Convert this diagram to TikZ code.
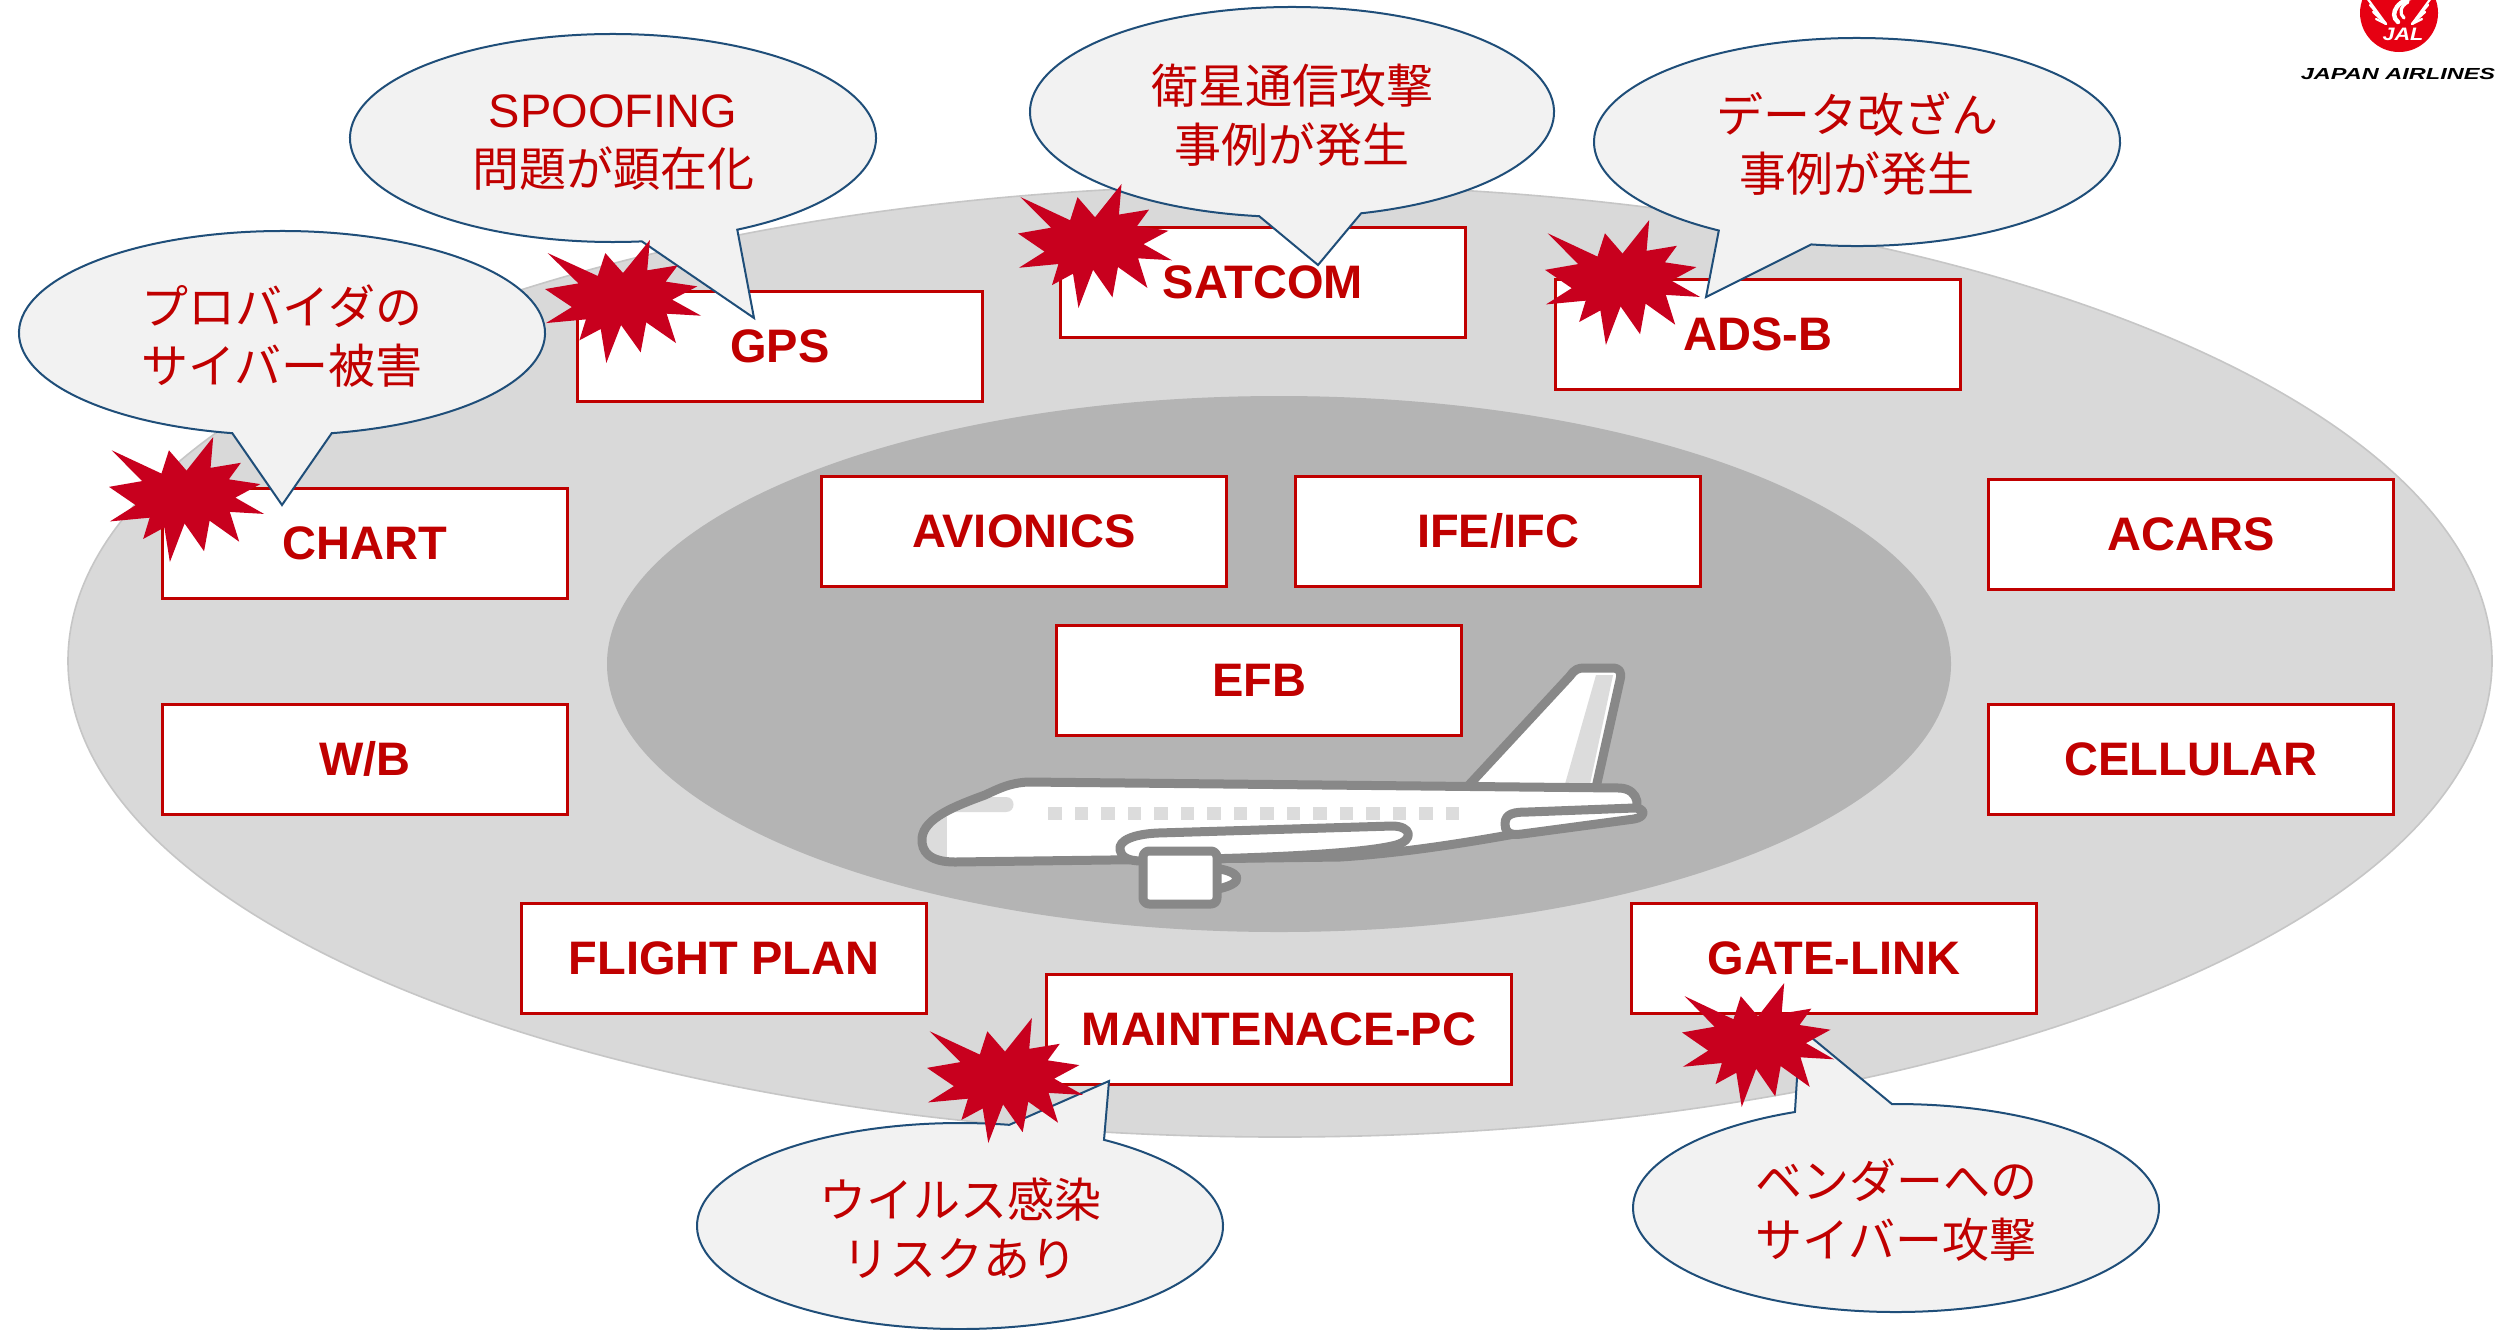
\documentclass[tikz,border=0pt]{standalone}
\usepackage{fontspec}
\usepackage{graphicx}
\setmainfont{Liberation Sans}
\newfontfamily\jp{Noto Sans CJK JP}
\definecolor{boxred}{HTML}{C00000}
\definecolor{burstred}{RGB}{200,0,30}
\definecolor{calloutfill}{HTML}{F2F2F2}
\definecolor{calloutline}{HTML}{1F4E79}
\definecolor{outerzone}{HTML}{D9D9D9}
\definecolor{outerrim}{HTML}{C6C6C6}
\definecolor{innerzone}{HTML}{B4B4B4}
\definecolor{planeline}{HTML}{888888}
\definecolor{planeshade}{HTML}{DCDCDC}
\definecolor{jalred}{HTML}{E60012}

% explosion burst in a 216 x 216 box, origin at top left
\tikzset{burst/.pic={\fill[burstred] (108,58) -- (83.52,22.95) -- (73.12,63.2) -- (3.7,22.95) -- (46.27,76.17) -- (0,86.15) -- (37.22,117.75) -- (1.35,145.87) -- (56.67,139.37) -- (47.62,176.17) -- (77.15,156.27) -- (84.85,216) -- (105.32,149.35) -- (132.47,197.37) -- (140.2,144.57) -- (181.45,180.95) -- (168.37,129.42) -- (216,132.9) -- (176.07,104.75) -- (211,81.37) -- (167.02,73.15) -- (183.8,44.57) -- (141.55,53.25) -- (145.22,0) -- cycle;}}
% \burstat{left}{top}{width}{height}
\newcommand\burstat[4]{\pic[xscale=#3/216,yscale=#4/216] at (#1,#2) {burst};}
% \bubbleat{cx}{cy}{rx}{ry}{start}{end}{tip x}{tip y}
\newcommand\bubbleat[8]{\filldraw[bubble] (#1,#2) ++(#5:#3 and #4) arc[start angle=#5, end angle=#6, x radius=#3, y radius=#4] -- (#7,#8) -- cycle;}
% airplane fuselage outline
\newcommand\bodyshape[1]{\path[#1] (922,838) .. controls (924,818) and (955,806) .. (985,795) .. controls (1000,788) and (1010,783) .. (1028,782) -- (1620,788) .. controls (1640,789) and (1642,812) .. (1628,814) .. controls (1560,824) and (1450,850) .. (1340,857) -- (955,862) .. controls (930,862) and (921,852) .. (922,838) -- cycle;}
\newcommand\finshape[1]{\path[#1] (1468,786) -- (1570,676) .. controls (1575,669) and (1578,668) .. (1585,668) -- (1612,668) .. controls (1620,668) and (1622,672) .. (1620,680) -- (1595,792) -- cycle;}

\begin{document}
\begin{tikzpicture}[x=0.5pt,y=-0.5pt,
  sysbox/.style={draw=boxred, line width=1.5pt, fill=white, minimum width=202.5pt,
    minimum height=55pt, inner sep=0pt, text=boxred, text height=16.8pt, text depth=0pt,
    font=\bfseries\fontsize{23.5}{28}\selectfont},
  bubble/.style={fill=calloutfill, draw=calloutline, line width=1pt, line join=miter},
  bubbletext/.style={align=center, text=boxred, inner sep=0pt,
    font=\fontsize{23.5}{29.5}\selectfont},
  plane/.style={draw=planeline, line width=4.5pt, line join=round, fill=white},
]
\useasboundingbox (0,0) rectangle (2503,1329);
\fill[white] (0,0) rectangle (2503,1329);

% zones
\filldraw[fill=outerzone, draw=outerrim, line width=0.8pt] (1280,661) ellipse [x radius=1212, y radius=476];
\fill[innerzone] (1279,664) ellipse [x radius=672, y radius=268];

% airplane
\finshape{fill=white}
\fill[planeshade] (1596,675) -- (1613,675) -- (1590,784) -- (1565,784) -- cycle;
\finshape{draw=planeline, line width=4.5pt, line join=round}
\bodyshape{fill=white}
\begin{scope}
  \bodyshape{clip}
  \fill[planeshade] (900,815) rectangle (947,880);
  \fill[planeshade] (950,812) -- (1006,812) .. controls (1016,812) and (1016,797) .. (1006,797) -- (975,797) -- cycle;
  \foreach \i in {0,...,15} \fill[planeshade] ({1048+26.5*\i},807) rectangle ++(13.5,13);
\end{scope}
\bodyshape{draw=planeline, line width=4.5pt, line join=round}
\filldraw[plane] (1120,850) .. controls (1118,840) and (1135,834) .. (1158,833) -- (1392,826) .. controls (1412,826) and (1414,840) .. (1396,845) .. controls (1370,852) and (1300,856) .. (1240,858) -- (1142,861) .. controls (1128,861) and (1121,857) .. (1120,850) -- cycle;
\filldraw[plane] (1212,868) .. controls (1240,870) and (1250,884) .. (1212,890) -- cycle;
\filldraw[plane, rounded corners=3pt] (1143,851) rectangle (1217,904);
\filldraw[plane] (1505,824) .. controls (1505,813) and (1515,812) .. (1528,812) -- (1634,808) .. controls (1646,808) and (1646,817) .. (1634,819) -- (1522,834) .. controls (1508,836) and (1505,831) .. (1505,824) -- cycle;

% systems
\node[sysbox] (gps) at (780,346) {GPS};
\node[sysbox] (satcom) at (1263,282) {SATCOM};
\node[sysbox] (adsb) at (1758,334) {ADS-B};
\node[sysbox] (chart) at (365,543) {CHART};
\node[sysbox] (avionics) at (1024,531) {AVIONICS};
\node[sysbox] (ifeifc) at (1498,531) {IFE/IFC};
\node[sysbox] (acars) at (2191,534) {ACARS};
\node[sysbox] (efb) at (1259,680) {EFB};
\node[sysbox] (wb) at (365,759) {W/B};
\node[sysbox] (cellular) at (2191,759) {CELLULAR};
\node[sysbox] (flightplan) at (724,958) {FLIGHT PLAN};
\node[sysbox, minimum width=232.5pt] (maint) at (1279,1029) {MAINTENACE-PC};
\node[sysbox] (gatelink) at (1834,958) {GATE-LINK};

% speech bubbles
\bubbleat{613}{138}{263}{104}{61.8}{-276.3}{754}{318}
\bubbleat{1292}{112}{262}{105}{74.7}{-262.8}{1318}{265}
\bubbleat{1857}{142}{263}{104}{100}{-238.3}{1706}{297}
\bubbleat{282}{333}{263}{102}{79.1}{-259.1}{282}{505}
\bubbleat{960}{1226}{263}{103}{-56.8}{280.8}{1109}{1081}
\bubbleat{1896}{1208}{263}{104}{-90.9}{247.4}{1800}{1028}

\node[bubbletext] (spoof) at (613,143) {SPOOFING\\{\jp 問題が顕在化}};
\node[bubbletext] (sat) at (1292,115) {\jp 衛星通信攻撃\\\jp 事例が発生};
\node[bubbletext] (data) at (1857,144) {\jp データ改ざん\\\jp 事例が発生};
\node[bubbletext] (prov) at (282,336) {\jp プロバイダの\\\jp サイバー被害};
\node[bubbletext] (virus) at (960,1228) {\jp ウイルス感染\\\jp リスクあり};
\node[bubbletext] (vendor) at (1896,1210) {\jp ベンダーへの\\\jp サイバー攻撃};

% bursts
\burstat{545}{240}{156}{123}
\burstat{1018}{184}{154}{124}
\burstat{1545}{220}{155}{125}
\burstat{109}{437}{155}{125}
\burstat{927}{1018}{156}{125}
\burstat{1682}{983}{152}{124}

% airline mark
\begin{scope}
  \clip (2300,0) rectangle (2503,100);
  \fill[jalred] (2399,13) circle [radius=39];
  \draw[white, line width=2.2pt, line cap=round] (2420,-4) .. controls (2398,-2) and (2388,14) .. (2398,22);
  \draw[white, line width=1.6pt, line cap=round] (2408,2) .. controls (2400,6) and (2399,14) .. (2404,18);
  \foreach \k in {0,1,2,3} {
    \draw[white, line width=1.1pt, line cap=round] (2386,24) -- ({2367+3*\k},{-2+7*\k});
    \draw[white, line width=1.1pt, line cap=round] (2412,24) -- ({2431-3*\k},{-2+7*\k});
  }
\end{scope}
\node[text=white, font=\bfseries\itshape\fontsize{9}{9}\selectfont, inner sep=0pt] (jal) at (2403,34) {\scalebox{1.2}[1]{JAL}};
\node[text=black, font=\bfseries\itshape\fontsize{8}{8}\selectfont, inner sep=0pt] (jalname) at (2398,74) {\scalebox{1.47}[1]{JAPAN AIRLINES}};
\end{tikzpicture}
\end{document}
